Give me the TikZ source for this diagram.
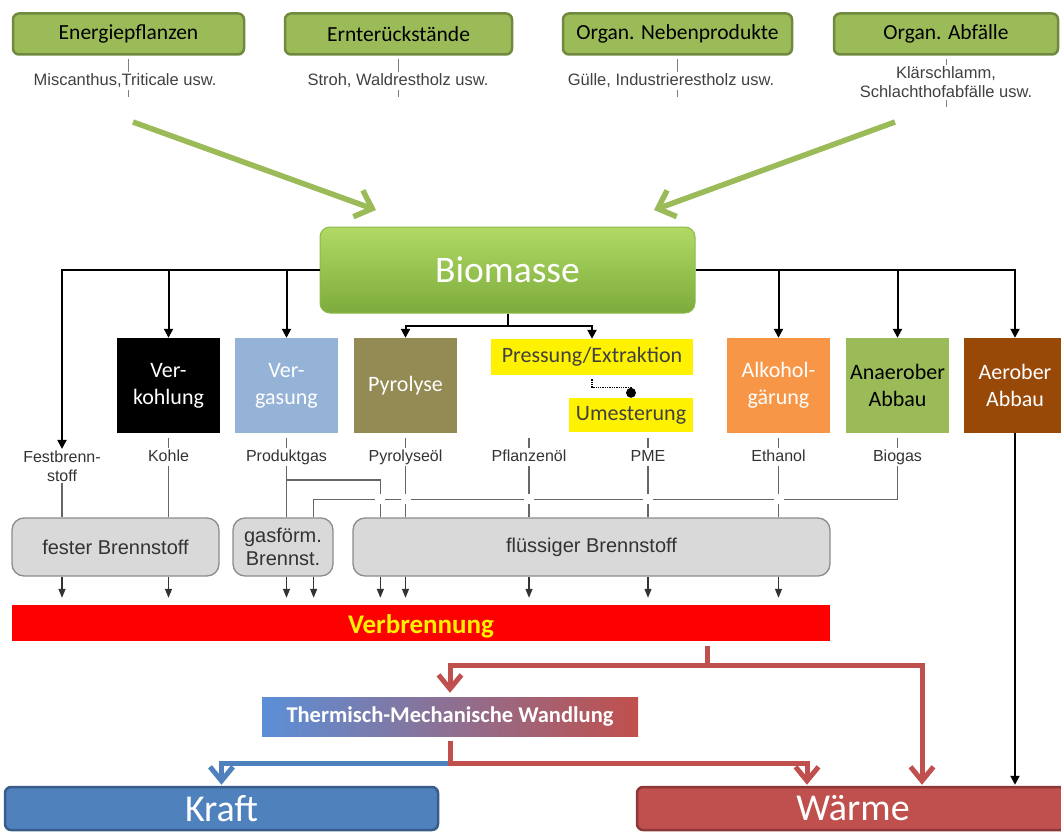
\documentclass[tikz,border=0pt]{standalone}
\usepackage{fontspec}
\newfontfamily\calfont{Carlito}
\newfontfamily\arfont{Liberation Sans}
\usetikzlibrary{arrows.meta,calc}

\definecolor{srcfill}{HTML}{9BBB59}
\definecolor{srcline}{HTML}{71893F}
\definecolor{biotop}{HTML}{B0DA64}
\definecolor{biobot}{HTML}{7DAB3C}
\definecolor{bioline}{HTML}{8DB84A}
\definecolor{vergfill}{HTML}{95B3D7}
\definecolor{pyrfill}{HTML}{948A54}
\definecolor{alkfill}{HTML}{F79646}
\definecolor{aerfill}{HTML}{984807}
\definecolor{hltext}{HTML}{404040}
\definecolor{notegray}{HTML}{404040}
\definecolor{tickgray}{HTML}{808080}
\definecolor{prodtext}{HTML}{333333}
\definecolor{lgray}{HTML}{666666}
\definecolor{darkline}{HTML}{333333}
\definecolor{fuelfill}{HTML}{D9D9D9}
\definecolor{fuelline}{HTML}{8C8C8C}
\definecolor{fueltext}{HTML}{333333}
\definecolor{heatred}{HTML}{C0504D}
\definecolor{heatline}{HTML}{8C3836}
\definecolor{powerblue}{HTML}{4F81BD}
\definecolor{powerline}{HTML}{385D8A}
\definecolor{thmleft}{HTML}{5B8FD7}

\begin{document}
\begin{tikzpicture}[x=1pt,y=-1pt,
  srcbox/.style={draw=srcline, line width=2.5pt, fill=srcfill, rounded corners=6pt,
    minimum height=41pt, inner sep=0pt, font=\calfont\fontsize{21.5}{24}\selectfont},
  note/.style={font=\arfont\fontsize{16.5}{19}\selectfont, text=notegray, align=center, inner sep=1.5pt},
  tick/.style={draw=tickgray, line width=1pt},
  procbox/.style={minimum width=103pt, minimum height=95pt, inner sep=0pt, align=center,
    text=white, font=\calfont\fontsize{22}{27}\selectfont},
  hlbox/.style={fill=yellow, inner sep=0pt, text=hltext, font=\calfont\fontsize{22}{26}\selectfont},
  prod/.style={font=\arfont\fontsize{16}{19}\selectfont, text=prodtext, align=center, inner sep=1.5pt},
  prodone/.style={prod, text height=11.5pt, text depth=3.5pt},
  fuel/.style={draw=fuelline, line width=1.3pt, fill=fuelfill, rounded corners=12pt,
    minimum height=58pt, inner sep=0pt, align=center, text=fueltext,
    font=\arfont\fontsize{20}{23}\selectfont},
  bk/.style={line width=2pt, -{Triangle[length=9pt,width=9pt]}},
  gl/.style={draw=lgray, line width=1.5pt},
  ga/.style={draw=darkline, line width=1.3pt, -{Triangle[length=9pt,width=7pt]}, shorten >=7pt},
  greenarrow/.style={draw=srcfill, line width=5.5pt, -{Straight Barb[length=15pt,width=28pt]}},
  rline/.style={draw=heatred, line width=5pt},
  rarrow/.style={rline, -{Straight Barb[length=14pt,width=23pt]}},
  barrow/.style={draw=powerblue, line width=5pt, -{Straight Barb[length=14pt,width=23pt]}},
  dotline/.style={densely dotted, line width=1.3pt}
]
\useasboundingbox (0,0) rectangle (1061,832);

% raw material groups
\node[srcbox, minimum width=231pt] (s1) at (128.5,34) {Energiepflanzen};
\node[srcbox, minimum width=227pt] (s2) at (398.5,34) {Ernterückstände};
\node[srcbox, minimum width=229pt] (s3) at (677.5,34) {Organ. Nebenprodukte};
\node[srcbox, minimum width=224pt] (s4) at (946,34) {Organ. Abfälle};

\node[note] (n1) at (125,81) {Miscanthus,Triticale usw.};
\node[note] (n2) at (398,81) {Stroh, Waldrestholz usw.};
\node[note] (n3) at (671,81) {Gülle, Industrierestholz usw.};
\node[note] (n4) at (946,82.5) {Klärschlamm,\\Schlachthofabfälle usw.};

\foreach \s/\n in {s1/n1, s2/n2, s3/n3, s4/n4}{
  \draw[tick] (\s.south) ++(0,3) -- (\s.south |- \n.north);
  \draw[tick] (\s.south |- \n.south) -- ++(0,7);
}

% flow into the biomass pool
\coordinate (g1s) at (133,122);
\coordinate (g1e) at (376,210);
\coordinate (g2s) at (895,122);
\coordinate (g2e) at (654,210);
\draw[greenarrow] (g1s) -- (g1e);
\draw[greenarrow] (g2s) -- (g2e);

\node[draw=bioline, line width=1pt, rounded corners=10pt, top color=biotop, bottom color=biobot,
  minimum width=375pt, minimum height=86pt, inner sep=0pt, text=white,
  font=\calfont\fontsize{37.5}{40}\selectfont] (bio) at (507.5,270) {Biomasse};

% conversion processes
\node[procbox, fill=black] (verk) at (168.5,385.5) {Ver-\\kohlung};
\node[procbox, fill=vergfill] (verg) at (286.5,385.5) {Ver-\\gasung};
\node[procbox, fill=pyrfill] (pyr) at (405.5,385.5) {Pyrolyse};
\node[procbox, fill=alkfill] (alk) at (778.5,385.5) {Alkohol-\\gärung};
\node[procbox, fill=srcfill, text=black] (ana) at (897.5,385.5) {Anaerober\\Abbau};
\node[procbox, fill=aerfill] (aer) at (1015,385.5) {Aerober\\Abbau};
\node[hlbox, minimum width=202pt, minimum height=36pt] (press) at (592,357) {Pressung/Extraktion};
\node[hlbox, minimum width=124pt, minimum height=34pt] (umest) at (631,415) {Umesterung};

\coordinate (ud) at ([yshift=5pt]umest.north);
\draw[dotline] (press.south) ++(0,4) -- ++(0,8) -| (ud);
\fill (ud) circle (5pt);

% products
\node[prod] (lfest) at (62,466) {Festbrenn-\\stoff};
\node[prodone] (lkoh) at (168.5,457) {Kohle};
\node[prodone] (lprod) at (286.5,457) {Produktgas};
\node[prodone] (lpyr) at (405.5,457) {Pyrolyseöl};
\node[prodone] (lpfl) at (529,457) {Pflanzenöl};
\node[prodone] (lpme) at (648,457) {PME};
\node[prodone] (leth) at (778.5,457) {Ethanol};
\node[prodone] (lbio) at (897.5,457) {Biogas};

% biomass to processes
\draw[bk] (bio.west) -| (lfest.north);
\draw[bk] (bio.west) -| (verk.north);
\draw[bk] (bio.west) -| (verg.north);
\draw[bk] (bio.east) -| (alk.north);
\draw[bk] (bio.east) -| (ana.north);
\draw[bk] (bio.east) -| (aer.north);
\draw[bk] (bio.south) -- ++(0,12) -| (pyr.north);
\draw[bk] (bio.south) -- ++(0,12) -| (press.north);

% fuel classes
\node[fuel, minimum width=207pt] (ffest) at (115.5,547) {fester Brennstoff};
\node[fuel, minimum width=100pt] (fgas) at (283,547) {gasförm.\\Brennst.};
\node[fuel, minimum width=477pt] (ffl) at (591.5,547) {flüssiger Brennstoff};

% process to product ticks
\foreach \l in {lkoh, lprod, lpyr, lpfl, lpme, leth, lbio}
  \draw[gl] (\l.north) -- ++(0,-10);

% product to fuel class
\draw[gl] (lfest.south) -- (lfest.south |- ffest.north);
\draw[gl] (lkoh.south) -- (lkoh.south |- ffest.north);
\draw[gl] (lprod.south) -- (lprod.south |- fgas.north);
\foreach \l in {lpyr, lpfl, lpme, leth}
  \draw[gl] (\l.south) -- (\l.south |- ffl.north);
\coordinate (c381) at ([xshift=28pt]ffl.north west);
\coordinate (c313) at ([xshift=-20pt]fgas.north east);
\draw[gl] (lprod.south) ++(0,14) -| (c381);
\draw[gl] (c313) -- ++(0,-18) coordinate (hs) -| (lbio.south);
\foreach \c in {c381, lpyr.south, lpfl.south, lpme.south, leth.south}
  \fill[white] (\c |- hs) +(-5,-5) rectangle +(5,5);

% combustion
\node[fill=red, minimum width=818pt, minimum height=36pt, inner sep=0pt, text=yellow,
  text height=20pt, text depth=0pt,
  font=\calfont\bfseries\fontsize{27}{30}\selectfont] (verb) at (421,623) {Verbrennung};

\foreach \c/\f in {lfest.south/ffest, lkoh.south/ffest, lprod.south/fgas, c313/fgas,
    c381/ffl, lpyr.south/ffl, lpfl.south/ffl, lpme.south/ffl, leth.south/ffl}
  \draw[ga] (\c |- \f.south) -- (\c |- verb.north);

% useful energy
\node[left color=thmleft, right color=heatred, minimum width=376pt, minimum height=39pt,
  inner sep=0pt, text=white, font=\calfont\bfseries\fontsize{22.5}{25}\selectfont]
  (thm) at (450,716.5) {Thermisch-Mechanische Wandlung};
\node[fill=powerblue, draw=powerline, line width=2.5pt, rounded corners=6pt,
  minimum width=433pt, minimum height=43pt, inner sep=0pt, text=white,
  font=\calfont\fontsize{38}{40}\selectfont] (kraft) at (221.5,808.5) {Kraft};
\node[fill=heatred, draw=heatline, line width=2.5pt, rounded corners=6pt,
  minimum width=432pt, minimum height=43pt, inner sep=0pt, text=white,
  font=\calfont\fontsize{38}{40}\selectfont] (waerme) at (853,808.5) {Wärme};

\coordinate (vs) at ([xshift=286pt]verb.south);
\path (vs) ++(0,24) coordinate (vh);
\draw[rarrow, shorten >=4pt] (vh) -| (thm.north);
\draw[rarrow, shorten >=1pt] (vs) ++(0,5) -- (vh) -| ([xshift=69pt]waerme.north);

\path (thm.south) ++(0,27) coordinate (tb);
\draw[barrow, shorten >=1pt] (tb) -| (kraft.north);
\draw[rarrow, shorten >=1pt] (thm.south) ++(0,5) -- (tb) -| ([xshift=-46pt]waerme.north);

\draw[bk, shorten >=1pt] (aer.south) -- (aer.south |- waerme.north);
\end{tikzpicture}
\end{document}
